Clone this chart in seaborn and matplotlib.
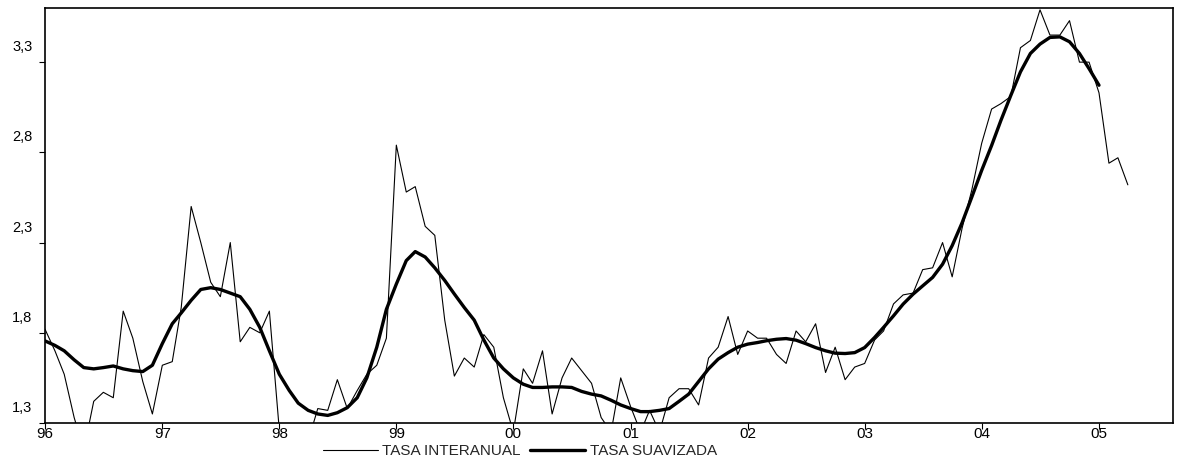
import matplotlib
matplotlib.use("Agg")
import matplotlib.dates as mdates
import matplotlib.pyplot as plt
import matplotlib.transforms as mtransforms
import pandas as pd
import seaborn as sns

# monthly data, Jan 1996 onwards
tasa_interanual = [
    1.82, 1.70, 1.57, 1.33, 1.15, 1.42, 1.47, 1.44, 1.92, 1.77, 1.53, 1.35,
    1.62, 1.64, 1.94, 2.50, 2.30, 2.08, 2.00, 2.30, 1.75, 1.83, 1.80, 1.92,
    1.26, 1.15, 1.10, 1.20, 1.38, 1.37, 1.54, 1.38, 1.48, 1.57, 1.62, 1.77,
    2.84, 2.58, 2.61, 2.39, 2.34, 1.87, 1.56, 1.66, 1.61, 1.79, 1.72, 1.44,
    1.25, 1.60, 1.52, 1.70, 1.35, 1.55, 1.66, 1.59, 1.52, 1.33, 1.25, 1.55,
    1.39, 1.25, 1.37, 1.25, 1.44, 1.49, 1.49, 1.40, 1.66, 1.72, 1.89, 1.68,
    1.81, 1.77, 1.77, 1.68, 1.63, 1.81, 1.75, 1.85, 1.58, 1.72, 1.54, 1.61,
    1.63, 1.76, 1.81, 1.96, 2.01, 2.02, 2.15, 2.16, 2.30, 2.11, 2.38, 2.59,
    2.85, 3.04, 3.07, 3.11, 3.38, 3.42, 3.59, 3.45, 3.45, 3.53, 3.30, 3.30,
    3.13, 2.74, 2.77, 2.62,
]
tasa_suavizada = [
    1.755, 1.73, 1.70, 1.65, 1.607, 1.60, 1.607, 1.616, 1.60, 1.59, 1.585, 1.62,
    1.74, 1.85, 1.91, 1.98, 2.04, 2.05, 2.04, 2.02, 2.00, 1.93, 1.83, 1.70,
    1.57, 1.48, 1.41, 1.37, 1.35, 1.342, 1.357, 1.385, 1.44, 1.55, 1.72, 1.93,
    2.07, 2.20, 2.25, 2.22, 2.16, 2.09, 2.015, 1.94, 1.87, 1.76, 1.66, 1.60,
    1.55, 1.515, 1.497, 1.497, 1.50, 1.50, 1.497, 1.475, 1.46, 1.45, 1.426, 1.40,
    1.38, 1.363, 1.363, 1.37, 1.38, 1.42, 1.46, 1.53, 1.60, 1.654, 1.69, 1.72,
    1.737, 1.746, 1.756, 1.764, 1.768, 1.759, 1.74, 1.718, 1.70, 1.687, 1.685, 1.69,
    1.718, 1.774, 1.83, 1.894, 1.959, 2.014, 2.06, 2.107, 2.18, 2.283, 2.41, 2.551,
    2.70, 2.838, 2.977, 3.116, 3.246, 3.348, 3.40, 3.437, 3.44, 3.413, 3.348, 3.264,
    3.172,
]
y_ticks = [1.3, 1.8, 2.3, 2.8, 3.3]
y_tick_labels = ["1,3", "1,8", "2,3", "2,8", "3,3"]
year_ticks = pd.date_range("1996-01-01", "2005-01-01", freq="YS")

dates = pd.date_range("1996-01-01", periods=len(tasa_interanual), freq="MS")
df_int = pd.DataFrame({"fecha": dates, "valor": tasa_interanual})
df_suav = pd.DataFrame({"fecha": dates[: len(tasa_suavizada)], "valor": tasa_suavizada})

sns.set_theme(style="ticks")
plt.rcParams["font.family"] = ["Liberation Sans", "DejaVu Sans"]

fig = plt.figure(figsize=(12.03, 4.66), dpi=100)
ax = fig.add_axes([0.0374, 0.0923, 0.9377, 0.8905])

sns.lineplot(data=df_int, x="fecha", y="valor", ax=ax, color="black",
             linewidth=0.8, label="TASA INTERANUAL")
sns.lineplot(data=df_suav, x="fecha", y="valor", ax=ax, color="black",
             linewidth=2.4, label="TASA SUAVIZADA")

ax.set_xlim(pd.Timestamp("1996-01-01"), pd.Timestamp("2005-08-20"))
ax.set_ylim(1.3, 3.6)
ax.set_xlabel("")
ax.set_ylabel("")

ax.set_xticks(year_ticks)
ax.xaxis.set_major_formatter(mdates.DateFormatter("%y"))
ax.set_yticks(y_ticks)
ax.set_yticklabels(y_tick_labels)
ax.tick_params(axis="x", labelsize=11, length=4, width=0.8, pad=-1, colors="black")
ax.tick_params(axis="y", labelsize=10.5, length=4, width=0.8, pad=5, colors="black")

# y labels sit above their ticks, as in the original
offset = mtransforms.ScaledTranslation(0, 0.08, fig.dpi_scale_trans)
for lab in ax.get_yticklabels():
    lab.set_verticalalignment("bottom")
    lab.set_transform(lab.get_transform() + offset)

for side in ["top", "right", "bottom", "left"]:
    ax.spines[side].set_visible(True)
    ax.spines[side].set_color("black")
    ax.spines[side].set_linewidth(1.2)

ax.legend_.remove()
handles, labels = ax.get_legend_handles_labels()
fig.legend(handles, labels, loc="center", bbox_to_anchor=(0.432, 0.032), ncol=2,
           frameon=False, fontsize=11, handlelength=3.6, handletextpad=0.3,
           columnspacing=0.6, borderpad=0.1)

fig.savefig("out.png", dpi=100)
